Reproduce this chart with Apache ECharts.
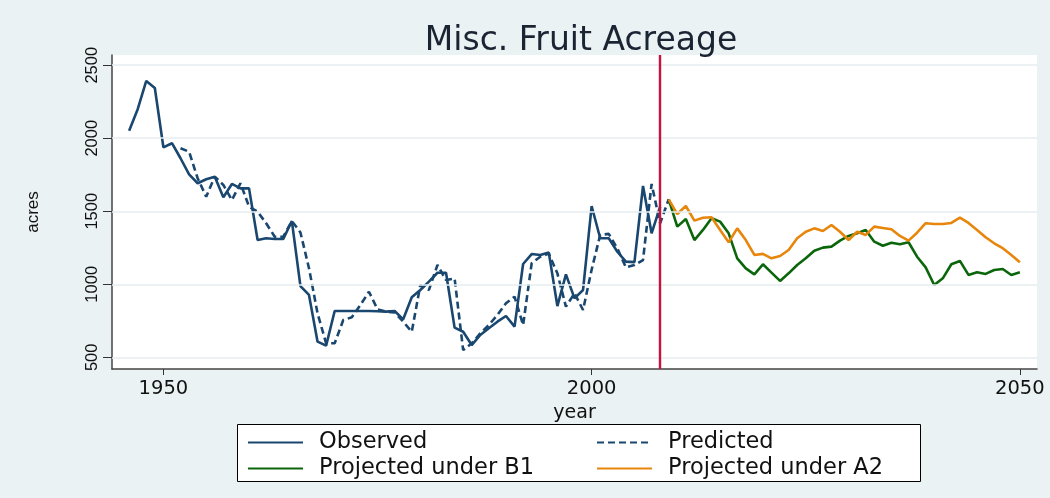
<!DOCTYPE html>
<html>
<head>
<meta charset="utf-8">
<script src="https://cdn.jsdelivr.net/npm/echarts@6/dist/echarts.min.js"></script>
<style>
  html, body { margin: 0; padding: 0; background: #eaf2f3; }
  #chart { width: 1050px; height: 498px; }
</style>
</head>
<body>
<div id="chart"></div>
<script>
// Misc. fruit acreage: observed history, one-step predictions, and two climate projections
const observedStart = 1946;
const observed = [
  2052, 2199, 2392, 2344, 1938, 1966, 1863, 1753, 1692, 1719,
  1737, 1596, 1687, 1657, 1657, 1303, 1315, 1310, 1310, 1433,
  988, 927, 607, 580, 817, 817, 817, 817, 817, 815,
  813, 817, 760, 911, 961, 1018, 1079, 1079, 703, 675,
  584, 653, 699, 744, 783, 710, 1139, 1207, 1200, 1217,
  851, 1068, 904, 961, 1536, 1315, 1315, 1223, 1155, 1152,
  1673, 1349, 1532
];

const predictedStart = 1952;
const predicted = [
  1931, 1908, 1726, 1600, 1737, 1680, 1577, 1692, 1532, 1497,
  1418, 1326, 1326, 1433, 1355, 1110, 801, 596, 596, 755,
  774, 858, 949, 829, 813, 807, 744, 675, 995, 961,
  1132, 1029, 1040, 550, 596, 664, 721, 790, 870, 915,
  721, 1144, 1189, 1210, 1075, 847, 938, 824, 1100, 1338,
  1345, 1246, 1116, 1132, 1166, 1687, 1418, 1582
];

const projectionStart = 2009;
const projectedB1 = [
  1582, 1395, 1447, 1303, 1372, 1452, 1429, 1349, 1178, 1109,
  1068, 1137, 1080, 1023, 1075, 1132, 1178, 1230, 1251, 1258,
  1299, 1331, 1349, 1372, 1292, 1264, 1285, 1274, 1288, 1189,
  1116, 995, 1041, 1137, 1160, 1064, 1082, 1071, 1098, 1105,
  1064, 1082
];
const projectedA2 = [
  1582, 1481, 1536, 1436, 1456, 1459, 1372, 1288, 1383, 1303,
  1201, 1208, 1178, 1194, 1235, 1315, 1360, 1383, 1365, 1406,
  1360, 1303, 1360, 1338, 1395, 1386, 1377, 1331, 1299, 1353,
  1418, 1413, 1413, 1420, 1456, 1420, 1372, 1322, 1281, 1247,
  1201, 1151
];

const yearTicks = [1950, 2000, 2050];
const acreTicks = [500, 1000, 1500, 2000, 2500];
const lastObservedYear = 2008;

const seriesNames = ['Observed', 'Predicted', 'Projected under B1', 'Projected under A2'];

function pairs(start, values) {
  return values.map((v, i) => [start + i, v]);
}

const NAVY = '#1a476f';
const GREEN = '#0b660b';
const ORANGE = '#e8860c';
const GRID_LINE = '#e6eef0';

const chart = echarts.init(document.getElementById('chart'), null, { renderer: 'canvas' });

const lineBase = {
  type: 'line',
  showSymbol: false,
  symbol: 'none',
  smooth: false,
  animation: false,
  z: 3
};

const legendText = {
  fontFamily: 'DejaVu Sans',
  fontSize: 22.5,
  lineHeight: 22,
  color: '#111',
  padding: [0, 0, 0, 11]
};

chart.setOption({
  backgroundColor: '#eaf2f3',
  animation: false,
  title: {
    text: 'Misc. Fruit Acreage',
    left: 576,
    top: 20,
    textAlign: 'center',
    textStyle: {
      fontFamily: 'DejaVu Sans',
      fontSize: 33,
      fontWeight: 'normal',
      color: '#1b2433'
    }
  },
  grid: {
    left: 112,
    right: 13,
    top: 55,
    bottom: 129,
    show: true,
    backgroundColor: '#ffffff',
    borderWidth: 0
  },
  xAxis: {
    type: 'value',
    min: 1944,
    max: 2052,
    name: 'year',
    nameLocation: 'middle',
    nameGap: 28,
    nameTextStyle: { fontFamily: 'DejaVu Sans', fontSize: 19, color: '#111' },
    axisLine: { show: true, onZero: false, lineStyle: { color: '#444', width: 1.5 } },
    axisTick: { show: true, length: 6, customValues: yearTicks, lineStyle: { color: '#333', width: 1 } },
    axisLabel: {
      customValues: yearTicks,
      margin: 10,
      fontFamily: 'DejaVu Sans',
      fontSize: 19.5,
      color: '#111',
      formatter: v => String(v)
    },
    splitLine: { show: false }
  },
  yAxis: {
    type: 'value',
    min: 420,
    max: 2570,
    name: 'acres',
    nameLocation: 'middle',
    nameGap: 70,
    nameRotate: 90,
    nameTextStyle: { fontFamily: 'Liberation Sans', fontSize: 17, color: '#111' },
    axisLine: { show: true, onZero: false, lineStyle: { color: '#444', width: 1.5 } },
    axisTick: { show: true, length: 9, customValues: acreTicks, lineStyle: { color: '#333', width: 1 } },
    axisLabel: {
      customValues: acreTicks,
      rotate: 90,
      margin: 11,
      fontFamily: 'Liberation Sans',
      fontSize: 16.5,
      color: '#111',
      formatter: v => String(v)
    },
    splitLine: { show: false }
  },
  graphic: [{
    type: 'rect',
    shape: { x: 237.5, y: 424.5, width: 683, height: 57 },
    style: { fill: '#ffffff', stroke: '#000000', lineWidth: 1 },
    z: 0,
    silent: true
  }],
  legend: [{
    data: [seriesNames[0], seriesNames[2]],
    orient: 'vertical',
    left: 247,
    top: 431,
    padding: 0,
    itemGap: 3,
    itemWidth: 55,
    itemHeight: 14,
    itemStyle: { opacity: 0 },
    textStyle: legendText
  }, {
    data: [seriesNames[1], seriesNames[3]],
    orient: 'vertical',
    left: 596,
    top: 431,
    padding: 0,
    itemGap: 3,
    itemWidth: 55,
    itemHeight: 14,
    itemStyle: { opacity: 0 },
    textStyle: legendText
  }],
  series: [
    {
      // light horizontal grid lines at the labelled acre values
      type: 'line',
      data: [],
      silent: true,
      z: 1,
      markLine: {
        silent: true,
        symbol: ['none', 'none'],
        label: { show: false },
        lineStyle: { color: GRID_LINE, width: 1.5, type: 'solid' },
        data: acreTicks.map(v => ({ yAxis: v }))
      }
    },
    Object.assign({}, lineBase, {
      name: seriesNames[0],
      data: pairs(observedStart, observed),
      lineStyle: { color: NAVY, width: 2.6, type: 'solid' },
      itemStyle: { color: NAVY },
      markLine: {
        silent: true,
        symbol: ['none', 'none'],
        label: { show: false },
        lineStyle: { color: '#c8123e', width: 2.4, type: 'solid' },
        data: [{ xAxis: lastObservedYear }],
        z: 5
      }
    }),
    Object.assign({}, lineBase, {
      name: seriesNames[1],
      data: pairs(predictedStart, predicted),
      lineStyle: { color: NAVY, width: 2.6, type: [7, 4] },
      itemStyle: { color: NAVY }
    }),
    Object.assign({}, lineBase, {
      name: seriesNames[2],
      data: pairs(projectionStart, projectedB1),
      lineStyle: { color: GREEN, width: 2.6, type: 'solid' },
      itemStyle: { color: GREEN }
    }),
    Object.assign({}, lineBase, {
      name: seriesNames[3],
      data: pairs(projectionStart, projectedA2),
      lineStyle: { color: ORANGE, width: 2.6, type: 'solid' },
      itemStyle: { color: ORANGE }
    })
  ]
});
</script>
</body>
</html>
